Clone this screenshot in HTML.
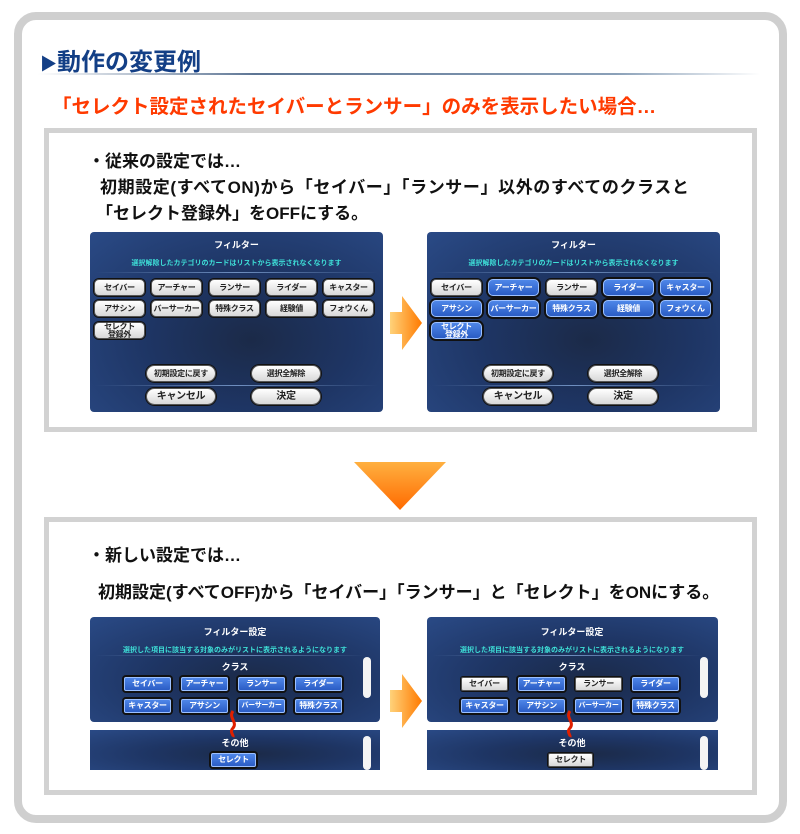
<!DOCTYPE html>
<html><head><meta charset="utf-8"><style>
*{margin:0;padding:0;box-sizing:border-box}
body{width:800px;height:834px;background:#fff;position:relative;overflow:hidden;font-family:"Liberation Sans","Noto Sans CJK JP",sans-serif}
.a{position:absolute}
.frame{left:14px;top:12px;width:773px;height:811px;border:8px solid #cfcfcf;border-radius:22px;background:#fff}
.panel{border:5px solid #d2d2d2;background:#fff}
.ss{background:radial-gradient(ellipse at 55% 60%,#1b2a48 0%,#1e3564 45%,#2a4a86 100%);border-radius:4px;overflow:hidden}
.b{position:absolute;height:17px;border-radius:5px;font-size:8px;font-weight:bold;display:flex;align-items:center;justify-content:center;line-height:8px;text-align:center;white-space:nowrap;letter-spacing:-0.3px}
.w{background:linear-gradient(#fff,#d8d8d8);color:#222;border:1px solid #555;box-shadow:0 0 0 1px #111}
.u{background:linear-gradient(#4e86e8,#2a5cc4);color:#fff;border:1px solid #9cc0ff;box-shadow:0 0 0 2px #111}
.t{position:absolute;color:#fff;font-weight:bold;font-size:9px;text-align:center}
.c{position:absolute;color:#3ee0d8;font-weight:bold;font-size:7px;text-align:center}
.ln{position:absolute;height:1px;background:linear-gradient(90deg,transparent,#6f8fc0,transparent)}
.tx{position:absolute;font-size:17px;font-weight:bold;color:#111;white-space:nowrap}
.s7{font-size:7px}
</style></head><body>
<div class="a frame"></div>
<div class="a" style="left:40px;top:42px;font-size:24px;font-weight:bold;color:#133f86"><span style="font-size:17px">▶</span>動作の変更例</div>
<div class="a" style="left:38px;top:73px;width:722px;height:2px;background:linear-gradient(90deg,#fff,#5d7594 30%,#8aa0b8 80%,#fff)"></div>
<div class="a" style="left:52px;top:90px;font-size:19.5px;color:#ff3a00;font-weight:bold;white-space:nowrap">「セレクト設定されたセイバーとランサー」のみを表示したい場合…</div>

<div class="a panel" style="left:44px;top:128px;width:713px;height:304px"></div>
<div class="tx" style="left:88px;top:147px">・従来の設定では…</div>
<div class="tx" style="left:100px;top:173px;letter-spacing:0.6px">初期設定(すべてON)から「セイバー」「ランサー」以外のすべてのクラスと</div>
<div class="tx" style="left:96px;top:199px">「セレクト登録外」をOFFにする。</div>

<div class="a ss" style="left:90px;top:232px;width:293px;height:180px">
<div class="t" style="left:0;width:293px;top:6px">フィルター</div>
<div class="c" style="left:0;width:293px;top:26px">選択解除したカテゴリのカードはリストから表示されなくなります</div>
<div class="ln" style="left:5px;width:283px;top:40px"></div>
<div class="b w" style="left:4px;top:47px;width:51px">セイバー</div>
<div class="b w" style="left:61px;top:47px;width:51px">アーチャー</div>
<div class="b w" style="left:119px;top:47px;width:51px">ランサー</div>
<div class="b w" style="left:176px;top:47px;width:51px">ライダー</div>
<div class="b w" style="left:233px;top:47px;width:51px">キャスター</div>
<div class="b w" style="left:4px;top:68px;width:51px">アサシン</div>
<div class="b w" style="left:61px;top:68px;width:51px">バーサーカー</div>
<div class="b w" style="left:119px;top:68px;width:51px">特殊クラス</div>
<div class="b w" style="left:176px;top:68px;width:51px">経験値</div>
<div class="b w" style="left:233px;top:68px;width:51px">フォウくん</div>
<div class="b w" style="left:4px;top:90px;width:51px;white-space:normal">セレクト<br>登録外</div>
<div class="b w" style="left:56px;top:133px;width:70px;border-radius:9px">初期設定に戻す</div>
<div class="b w" style="left:161px;top:133px;width:70px;border-radius:9px">選択全解除</div>
<div class="ln" style="left:5px;width:283px;top:153px"></div>
<div class="b w" style="left:56px;top:156px;width:70px;border-radius:9px;font-size:10px">キャンセル</div>
<div class="b w" style="left:161px;top:156px;width:70px;border-radius:9px;font-size:10px">決定</div>
</div>

<div class="a ss" style="left:427px;top:232px;width:293px;height:180px">
<div class="t" style="left:0;width:293px;top:6px">フィルター</div>
<div class="c" style="left:0;width:293px;top:26px">選択解除したカテゴリのカードはリストから表示されなくなります</div>
<div class="ln" style="left:5px;width:283px;top:40px"></div>
<div class="b w" style="left:4px;top:47px;width:51px">セイバー</div>
<div class="b u" style="left:61px;top:47px;width:51px">アーチャー</div>
<div class="b w" style="left:119px;top:47px;width:51px">ランサー</div>
<div class="b u" style="left:176px;top:47px;width:51px">ライダー</div>
<div class="b u" style="left:233px;top:47px;width:51px">キャスター</div>
<div class="b u" style="left:4px;top:68px;width:51px">アサシン</div>
<div class="b u" style="left:61px;top:68px;width:51px">バーサーカー</div>
<div class="b u" style="left:119px;top:68px;width:51px">特殊クラス</div>
<div class="b u" style="left:176px;top:68px;width:51px">経験値</div>
<div class="b u" style="left:233px;top:68px;width:51px">フォウくん</div>
<div class="b u" style="left:4px;top:90px;width:51px;white-space:normal">セレクト<br>登録外</div>
<div class="b w" style="left:56px;top:133px;width:70px;border-radius:9px">初期設定に戻す</div>
<div class="b w" style="left:161px;top:133px;width:70px;border-radius:9px">選択全解除</div>
<div class="ln" style="left:5px;width:283px;top:153px"></div>
<div class="b w" style="left:56px;top:156px;width:70px;border-radius:9px;font-size:10px">キャンセル</div>
<div class="b w" style="left:161px;top:156px;width:70px;border-radius:9px;font-size:10px">決定</div>
</div>

<svg class="a" style="left:388px;top:292px" width="36" height="62"><defs><linearGradient id="g1" x1="0" x2="1"><stop offset="0" stop-color="#ffd27a"/><stop offset="1" stop-color="#ff7a00"/></linearGradient></defs><polygon points="2,20 14,20 14,4 34,31 14,58 14,42 2,42" fill="url(#g1)"/></svg>

<svg class="a" style="left:352px;top:460px" width="96" height="52"><defs><linearGradient id="g2" x1="0" y1="0" x2="0" y2="1"><stop offset="0" stop-color="#ffb040"/><stop offset="1" stop-color="#ff6a00"/></linearGradient></defs><polygon points="2,2 94,2 48,50" fill="url(#g2)"/></svg>

<div class="a panel" style="left:44px;top:517px;width:713px;height:278px"></div>
<div class="tx" style="left:88px;top:541px">・新しい設定では…</div>
<div class="tx" style="left:98px;top:578px">初期設定(すべてOFF)から「セイバー」「ランサー」と「セレクト」をONにする。</div>

<div class="a ss" style="left:90px;top:617px;width:290px;height:105px">
<div class="t" style="left:0;width:290px;top:8px">フィルター設定</div>
<div class="c" style="left:0;width:290px;top:28px">選択した項目に該当する対象のみがリストに表示されるようになります</div>
<div class="ln" style="left:5px;width:270px;top:38px"></div>
<div class="t" style="left:0;width:290px;top:43px">クラス</div>
<div class="b u" style="left:34px;top:60px;width:47px;height:14px;border-radius:2px">セイバー</div>
<div class="b u" style="left:91px;top:60px;width:47px;height:14px;border-radius:2px">アーチャー</div>
<div class="b u" style="left:148px;top:60px;width:47px;height:14px;border-radius:2px">ランサー</div>
<div class="b u" style="left:205px;top:60px;width:47px;height:14px;border-radius:2px">ライダー</div>
<div class="b u" style="left:34px;top:82px;width:47px;height:14px;border-radius:2px">キャスター</div>
<div class="b u" style="left:91px;top:82px;width:47px;height:14px;border-radius:2px">アサシン</div>
<div class="b u s7" style="left:148px;top:82px;width:47px;height:14px;border-radius:2px">バーサーカー</div>
<div class="b u" style="left:205px;top:82px;width:47px;height:14px;border-radius:2px">特殊クラス</div>
<div class="a" style="left:273px;top:40px;width:8px;height:41px;background:#f4f4f4;border-radius:4px"></div>
</div>
<div class="a ss" style="left:90px;top:730px;width:290px;height:40px;border-radius:0">
<div class="t" style="left:0;width:290px;top:6px">その他</div>
<div class="b u" style="left:121px;top:23px;width:45px;height:14px;border-radius:2px">セレクト</div>
<div class="a" style="left:273px;top:6px;width:8px;height:34px;background:#f4f4f4;border-radius:4px"></div>
</div>
<svg class="a" style="left:226px;top:710px" width="14" height="28"><path d="M7,1 C2,8 12,12 7,18 C3,22 8,25 7,27" stroke="#e02000" stroke-width="3" fill="none"/></svg>

<div class="a ss" style="left:427px;top:617px;width:291px;height:105px">
<div class="t" style="left:0;width:290px;top:8px">フィルター設定</div>
<div class="c" style="left:0;width:290px;top:28px">選択した項目に該当する対象のみがリストに表示されるようになります</div>
<div class="ln" style="left:5px;width:270px;top:38px"></div>
<div class="t" style="left:0;width:290px;top:43px">クラス</div>
<div class="b w" style="left:34px;top:60px;width:47px;height:14px;border-radius:2px">セイバー</div>
<div class="b u" style="left:91px;top:60px;width:47px;height:14px;border-radius:2px">アーチャー</div>
<div class="b w" style="left:148px;top:60px;width:47px;height:14px;border-radius:2px">ランサー</div>
<div class="b u" style="left:205px;top:60px;width:47px;height:14px;border-radius:2px">ライダー</div>
<div class="b u" style="left:34px;top:82px;width:47px;height:14px;border-radius:2px">キャスター</div>
<div class="b u" style="left:91px;top:82px;width:47px;height:14px;border-radius:2px">アサシン</div>
<div class="b u s7" style="left:148px;top:82px;width:47px;height:14px;border-radius:2px">バーサーカー</div>
<div class="b u" style="left:205px;top:82px;width:47px;height:14px;border-radius:2px">特殊クラス</div>
<div class="a" style="left:273px;top:40px;width:8px;height:41px;background:#f4f4f4;border-radius:4px"></div>
</div>
<div class="a ss" style="left:427px;top:730px;width:291px;height:40px;border-radius:0">
<div class="t" style="left:0;width:290px;top:6px">その他</div>
<div class="b w" style="left:121px;top:23px;width:45px;height:14px;border-radius:2px">セレクト</div>
<div class="a" style="left:273px;top:6px;width:8px;height:34px;background:#f4f4f4;border-radius:4px"></div>
</div>
<svg class="a" style="left:563px;top:710px" width="14" height="28"><path d="M7,1 C2,8 12,12 7,18 C3,22 8,25 7,27" stroke="#e02000" stroke-width="3" fill="none"/></svg>

<svg class="a" style="left:388px;top:670px" width="36" height="62"><polygon points="2,20 14,20 14,4 34,31 14,58 14,42 2,42" fill="url(#g1)"/></svg>
</body></html>
